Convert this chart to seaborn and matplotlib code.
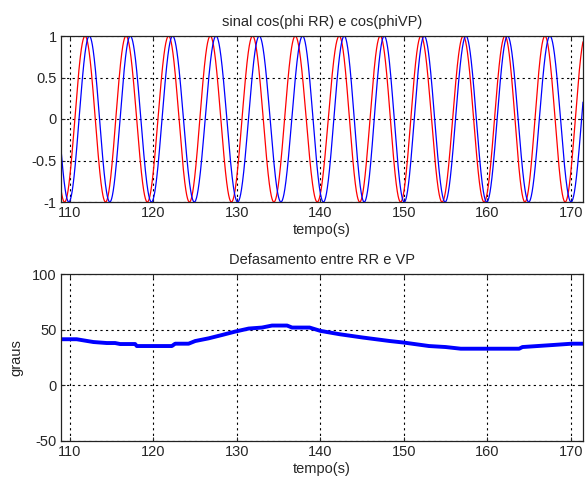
import numpy as np
import pandas as pd
import matplotlib
matplotlib.use("Agg")
import matplotlib.pyplot as plt
import seaborn as sns

# ---- data ----
# peak times (s) of cos(phi RR) (red) and cos(phi VP) (blue)
rr_peaks = [106.9, 111.80, 116.71, 121.81, 126.80, 131.87, 136.98, 142.25,
            147.16, 152.04, 157.10, 162.10, 166.89, 171.74]
vp_peaks = [107.40, 112.31, 117.22, 122.29, 127.49, 132.67, 137.86, 142.85,
            147.64, 152.43, 157.43, 162.41, 167.49, 172.55]

# phase difference (degrees) between RR and VP
def_t = [108.9, 110.8, 112.8, 114.4, 115.4, 116.0, 117.8, 118.0, 122.2, 122.6,
         124.2, 125.0, 126.6, 128.2, 129.8, 131.4, 133.0, 134.2, 136.0, 136.6,
         138.7, 140.0, 142.3, 145.1, 148.3, 150.0, 153.0, 155.0, 156.8, 163.8,
         164.2, 167.8, 170.1, 171.5]
def_deg = [41.4, 41.4, 38.9, 38.0, 38.0, 37.1, 37.1, 35.3, 35.3, 37.4,
           37.4, 39.8, 42.2, 45.2, 48.3, 51.0, 51.9, 53.7, 53.7, 51.9,
           51.9, 48.9, 45.9, 42.9, 39.8, 38.4, 35.3, 34.4, 32.9, 32.9,
           34.4, 36.2, 37.4, 37.4]

xticks = [110, 120, 130, 140, 150, 160, 170]

# ---- build signals (cosine of phase, phase from the read peak times) ----
t = np.linspace(108.92, 171.45, 3000)
phi_rr = np.interp(t, rr_peaks, 2 * np.pi * np.arange(len(rr_peaks)))
phi_vp = np.interp(t, vp_peaks, 2 * np.pi * np.arange(len(vp_peaks)))
sig = pd.DataFrame({"t": t, "rr": np.cos(phi_rr), "vp": np.cos(phi_vp)})
dfd = pd.DataFrame({"t": def_t, "deg": def_deg})

sns.set_theme(style="white")
plt.rcParams["font.family"] = ["Liberation Sans", "DejaVu Sans"]
txt = "#262626"
plt.rcParams.update({"text.color": txt, "axes.labelcolor": txt,
                     "xtick.color": txt, "ytick.color": txt,
                     "axes.edgecolor": "#222222", "axes.linewidth": 0.9,
                     "axes.unicode_minus": False})

fig = plt.figure(figsize=(5.87, 4.80), dpi=100)
ax1 = fig.add_axes([61/587, 1 - 202/480, (583-61)/587, (202-36)/480])
ax2 = fig.add_axes([61/587, 1 - 441/480, (583-61)/587, (441-274)/480])

sns.lineplot(data=sig, x="t", y="rr", ax=ax1, color="red", lw=0.9, estimator=None)
sns.lineplot(data=sig, x="t", y="vp", ax=ax1, color="blue", lw=0.9, estimator=None)
sns.lineplot(data=dfd, x="t", y="deg", ax=ax2, color="blue", lw=2.8,
             estimator=None)

for ax in (ax1, ax2):
    ax.set_xlim(108.92, 171.45)
    ax.set_xticks(xticks)
    ax.grid(True, color="black", linestyle=(0, (2, 3)), linewidth=0.8)
    ax.tick_params(direction="in", length=3, width=0.8, labelsize=10.5,
                   top=True, right=True, bottom=True, left=True, pad=3)
    for s in ax.spines.values():
        s.set_visible(True)
    ax.set_xlabel("tempo(s)", fontsize=10.5, labelpad=2)

ax1.set_ylim(-1, 1)
ax1.set_yticks([-1, -0.5, 0, 0.5, 1])
ax1.set_yticklabels(["-1", "-0.5", "0", "0.5", "1"])
ax1.set_ylabel("")
ax1.set_title("sinal cos(phi RR) e cos(phiVP)", fontsize=10.5, pad=7)

ax2.set_ylim(-50, 100)
ax2.set_yticks([-50, 0, 50, 100])
ax2.set_ylabel("graus", fontsize=10.5, labelpad=6)
ax2.set_title("Defasamento entre RR e VP", fontsize=10.5, pad=7)

fig.savefig("out.png", dpi=100, facecolor="white")
